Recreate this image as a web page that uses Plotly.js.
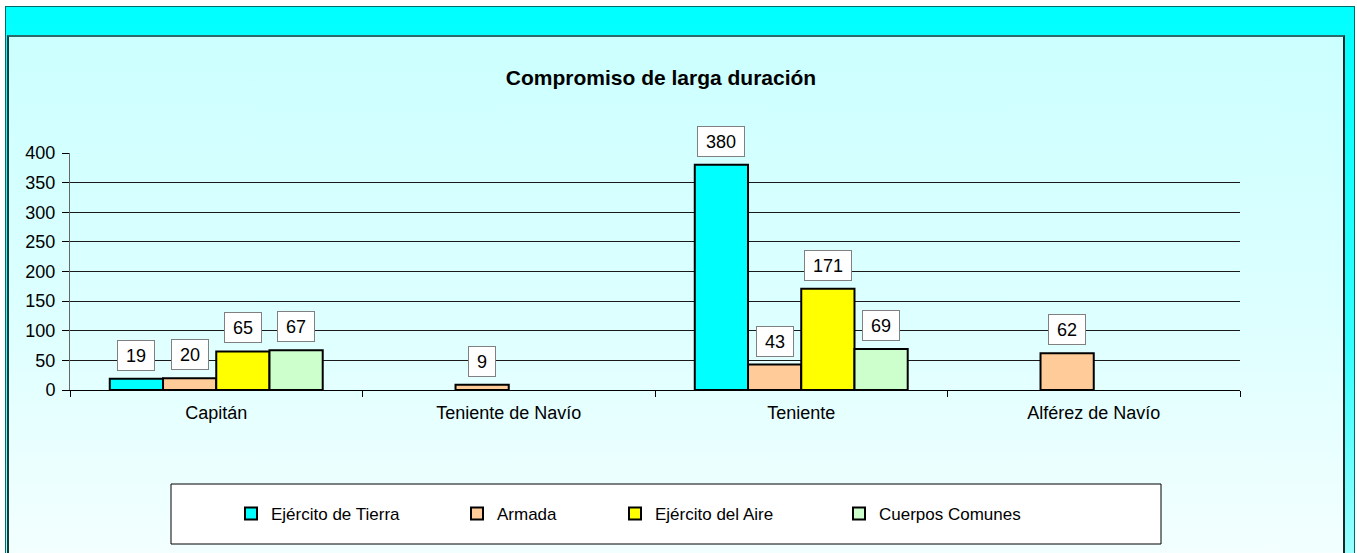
<!DOCTYPE html>
<html>
<head>
<meta charset="utf-8">
<script src="https://cdn.plot.ly/plotly-3.0.1.min.js"></script>
<style>
  html, body { margin: 0; padding: 0; background: #ffffff; width: 1357px; height: 553px; overflow: hidden; }
  #outer { position: absolute; left: 5px; top: 6px; width: 1348px; height: 560px;
           border: 1px solid #006b6b; background: linear-gradient(#00ffff 0%, #33ffff 60%, #a0ffff 100%); }
  #inner { position: absolute; left: 7px; top: 35px; width: 1334px; height: 530px;
           border-left: 2px solid #1a3a3a; border-top: 2px solid #2a6a6a; border-right: 2px solid #1a2a2a;
           background: linear-gradient(#ccffff 0%, #dcffff 50%, #f4ffff 100%); }
  #chart { position: absolute; left: 0; top: 0; width: 1357px; height: 553px; }
</style>
</head>
<body>
<div id="outer"></div>
<div id="inner"></div>
<div id="chart"></div>
<script>
// ---- data ----
const categories = ["Capitán", "Teniente de Navío", "Teniente", "Alférez de Navío"];
const seriesNames = ["Ejército de Tierra", "Armada", "Ejército del Aire", "Cuerpos Comunes"];
const tierra   = [19, null, 380, null];
const armada   = [20, 9, 43, 62];
const aire     = [65, null, 171, null];
const cuerpos  = [67, null, 69, null];
const seriesValues = [tierra, armada, aire, cuerpos];
const seriesColors = ["#00ffff", "#ffcc99", "#ffff00", "#ccffcc"];
const chartTitle = "Compromiso de larga duración";

// ---- geometry ----
const W = 1357, H = 553;
const plotL = 70, plotR = 1240, plotT = 153, plotB = 390;
const px2x = p => (p - plotL) / (plotR - plotL);
const py2y = p => (plotB - p) / (plotB - plotT);
const bargap = 0.272;
const font = "Arial, 'Liberation Sans', sans-serif";
const fs = 18;

const traces = seriesNames.map((name, i) => ({
  type: "bar",
  name: name,
  x: categories,
  y: seriesValues[i],
  marker: { color: seriesColors[i], line: { color: "#000000", width: 2 } },
  legend: i === 0 ? "legend" : "legend" + (i + 1),
  hoverinfo: "x+y+name"
}));

// data labels as boxed annotations
const annotations = [];
const barW = (1 - bargap) / seriesNames.length;
seriesValues.forEach((vals, i) => {
  vals.forEach((v, j) => {
    if (v === null) return;
    const txt = String(v);
    annotations.push({
      x: j + (i - (seriesNames.length - 1) / 2) * barW,
      y: v, xref: "x", yref: "y",
      text: txt, showarrow: false,
      yanchor: "bottom", yshift: 8,
      bgcolor: "#ffffff", bordercolor: "#808080", borderwidth: 1, borderpad: 0,
      width: txt.length * 0.556 * fs + 16, height: 29,
      font: { family: font, size: fs, color: "#000000" }
    });
  });
});

// legend positions (symbol centre x in px)
const legendMarkerPx = [251, 477, 635, 859];
const legendY = 514;
const legends = {};
legendMarkerPx.forEach((mx, i) => {
  const key = i === 0 ? "legend" : "legend" + (i + 1);
  legends[key] = {
    x: px2x(mx - 20), y: py2y(legendY), xref: "paper", yref: "paper",
    xanchor: "left", yanchor: "middle", orientation: "h",
    bgcolor: "rgba(0,0,0,0)", borderwidth: 0,
    font: { family: font, size: 17, color: "#000000" },
    itemwidth: 30, itemclick: false
  };
});

const layout = Object.assign({
  width: W, height: H,
  margin: { l: plotL, r: W - plotR, t: plotT, b: H - plotB, pad: 0 },
  paper_bgcolor: "rgba(0,0,0,0)",
  plot_bgcolor: "rgba(0,0,0,0)",
  barmode: "group", bargap: bargap, bargroupgap: 0,
  showlegend: true,
  title: {
    text: "<b>" + chartTitle + "</b>",
    xref: "container", yref: "container",
    x: 661 / W, y: 1 - 78 / H, xanchor: "center", yanchor: "middle",
    font: { family: font, size: 21, color: "#000000" }
  },
  xaxis: {
    type: "category",
    showline: true, linecolor: "#000000", linewidth: 1,
    ticks: "outside", tickson: "boundaries", ticklen: 6, tickcolor: "#000000",
    ticklabelstandoff: 6,
    showgrid: false, zeroline: false,
    tickfont: { family: font, size: fs, color: "#000000" }
  },
  yaxis: {
    range: [0, 400], dtick: 50, tick0: 0,
    showgrid: true, gridcolor: "#1a1a1a", gridwidth: 1,
    zeroline: false,
    showline: true, linecolor: "#666666", linewidth: 1,
    ticks: "outside", ticklen: 7, tickcolor: "#000000",
    ticklabelstandoff: 3,
    tickfont: { family: font, size: fs, color: "#000000" }
  },
  annotations: annotations,
  shapes: [{
    type: "rect", xref: "paper", yref: "paper",
    x0: px2x(171), x1: px2x(1161), y0: py2y(544), y1: py2y(484),
    fillcolor: "#ffffff", line: { color: "#000000", width: 1 }, layer: "below"
  }]
}, legends);

Plotly.newPlot("chart", traces, layout, { displayModeBar: false, staticPlot: true });
</script>
</body>
</html>
